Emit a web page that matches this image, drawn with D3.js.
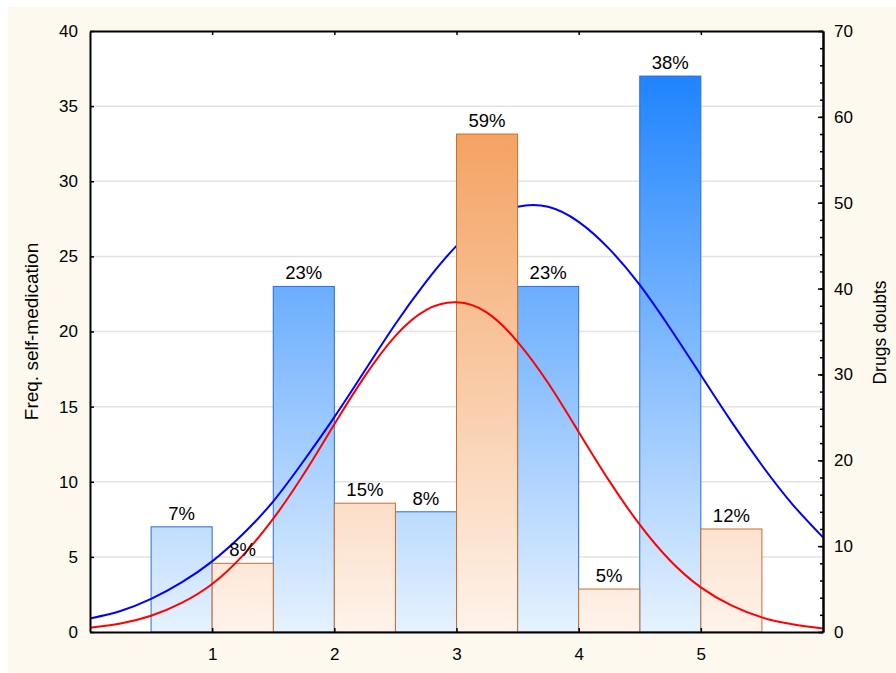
<!DOCTYPE html>
<html>
<head>
<meta charset="utf-8">
<script src="https://cdn.jsdelivr.net/npm/d3@7"></script>
<style>
  body { margin: 0; background: #fff; }
  text { font-family: "Liberation Sans", Arial, sans-serif; }
</style>
</head>
<body>
<div id="chart"></div>
<script>
// categories on the x axis
const categories = [1, 2, 3, 4, 5];
// left axis: frequency of self-medication
const selfMedication = [7, 23, 8, 23, 37];
const selfMedicationLabels = ["7%", "23%", "8%", "23%", "38%"];
// right axis: drugs doubts
const drugsDoubts = [8, 15, 58, 5, 12];
const drugsDoubtsLabels = ["8%", "15%", "59%", "5%", "12%"];

// fitted curves at steps of 0.25
const curveX = [0, 0.25, 0.5, 0.75, 1, 1.25, 1.5, 1.75, 2, 2.25, 2.5, 2.75, 3,
  3.25, 3.5, 3.75, 4, 4.25, 4.5, 4.75, 5, 5.25, 5.5, 5.75, 6];
const blueCurve = [0.9, 1.4, 2.2, 3.3, 4.7, 6.5, 8.7, 11.4, 14.3, 17.4, 20.5, 23.3, 25.7,
  27.4, 28.3, 28.3, 27.3, 25.5, 23.1, 20.2, 17.1, 14.0, 11.1, 8.5, 6.3];
const redCurve = [0.5, 1.0, 1.9, 3.4, 5.6, 8.9, 13.2, 18.4, 24.2, 29.8, 34.5, 37.5, 38.4,
  37.2, 33.8, 29.0, 23.3, 17.6, 12.5, 8.3, 5.2, 3.1, 1.7, 0.9, 0.4];

const leftTicks = [0, 5, 10, 15, 20, 25, 30, 35, 40];
const rightTicks = [0, 10, 20, 30, 40, 50, 60, 70];

const W = 896, H = 673;
const margin = { top: 31, right: 73, bottom: 41, left: 90 };
const width = W - margin.left - margin.right;
const height = H - margin.top - margin.bottom;

const svg = d3.select("#chart").append("svg")
  .attr("width", W)
  .attr("height", H);

svg.append("rect")
  .attr("x", 8).attr("y", 7)
  .attr("width", W - 8).attr("height", H - 7)
  .attr("fill", "#fdf9ee");

const defs = svg.append("defs");
const blueGrad = defs.append("linearGradient")
  .attr("id", "blueGrad")
  .attr("gradientUnits", "userSpaceOnUse")
  .attr("x1", 0).attr("x2", 0).attr("y1", 0).attr("y2", height);
blueGrad.append("stop").attr("offset", 0).attr("stop-color", "#0f7bff");
blueGrad.append("stop").attr("offset", 1).attr("stop-color", "#e6f2ff");

const orangeGrad = defs.append("linearGradient")
  .attr("id", "orangeGrad")
  .attr("gradientUnits", "userSpaceOnUse")
  .attr("x1", 0).attr("x2", 0).attr("y1", 0).attr("y2", height);
orangeGrad.append("stop").attr("offset", 0).attr("stop-color", "#f29246");
orangeGrad.append("stop").attr("offset", 1).attr("stop-color", "#fef3eb");

defs.append("clipPath").attr("id", "plotClip")
  .append("rect").attr("width", width).attr("height", height);

const g = svg.append("g")
  .attr("transform", `translate(${margin.left},${margin.top})`);

g.append("rect")
  .attr("width", width).attr("height", height)
  .attr("fill", "#fff");

const x = d3.scaleLinear().domain([0, 6]).range([0, width]);
const yL = d3.scaleLinear().domain([0, 40]).range([height, 0]);
const yR = d3.scaleLinear().domain([0, 70]).range([height, 0]);

// grid
g.append("g")
  .selectAll("line")
  .data(leftTicks.filter(d => d > 0 && d < 40))
  .join("line")
  .attr("x1", 0).attr("x2", width)
  .attr("y1", d => yL(d)).attr("y2", d => yL(d))
  .attr("stroke", "#e2e2e2")
  .attr("stroke-width", 1.5);

const plot = g.append("g").attr("clip-path", "url(#plotClip)");
const half = 0.5;

// blue bars (left axis)
plot.append("g")
  .selectAll("rect")
  .data(categories)
  .join("rect")
  .attr("x", d => x(d - half))
  .attr("y", (d, i) => yL(selfMedication[i]))
  .attr("width", x(half) - x(0))
  .attr("height", (d, i) => height - yL(selfMedication[i]))
  .attr("fill", "url(#blueGrad)")
  .attr("stroke", "#2a6be0")
  .attr("stroke-width", 1);

const line = d3.line().curve(d3.curveNatural);

plot.append("path")
  .attr("d", line(curveX.map((v, i) => [x(v), yL(blueCurve[i])])))
  .attr("fill", "none")
  .attr("stroke", "#0000ff")
  .attr("stroke-width", 2);

// orange bars (right axis)
plot.append("g")
  .selectAll("rect")
  .data(categories)
  .join("rect")
  .attr("x", d => x(d))
  .attr("y", (d, i) => yR(drugsDoubts[i]))
  .attr("width", x(half) - x(0))
  .attr("height", (d, i) => height - yR(drugsDoubts[i]))
  .attr("fill", "url(#orangeGrad)")
  .attr("stroke", "#c8702c")
  .attr("stroke-width", 1);

plot.append("path")
  .attr("d", line(curveX.map((v, i) => [x(v), yR(redCurve[i])])))
  .attr("fill", "none")
  .attr("stroke", "#ff0000")
  .attr("stroke-width", 2);

// bar labels
g.append("g")
  .selectAll("text")
  .data(categories)
  .join("text")
  .attr("x", d => x(d - half / 2))
  .attr("y", (d, i) => yL(selfMedication[i]) - 7)
  .attr("text-anchor", "middle")
  .attr("font-size", 18.5)
  .text((d, i) => selfMedicationLabels[i]);

g.append("g")
  .selectAll("text")
  .data(categories)
  .join("text")
  .attr("x", d => x(d + half / 2))
  .attr("y", (d, i) => yR(drugsDoubts[i]) - 7)
  .attr("text-anchor", "middle")
  .attr("font-size", 18.5)
  .text((d, i) => drugsDoubtsLabels[i]);

// axes
function styleAxis(sel) {
  sel.attr("font-size", 17).attr("font-family", "Liberation Sans, Arial, sans-serif");
  sel.select(".domain").attr("stroke", "#000").attr("stroke-width", 2);
  sel.selectAll(".tick line").attr("stroke", "#000").attr("stroke-width", 1.5);
  sel.selectAll(".tick text").attr("fill", "#000");
}

g.append("g")
  .call(d3.axisLeft(yL).tickValues(leftTicks).tickSize(-4).tickSizeOuter(0).tickPadding(12))
  .call(styleAxis);

g.append("g")
  .attr("transform", `translate(${width},0)`)
  .call(d3.axisRight(yR).tickValues(d3.range(0, 71, 2)).tickSize(-3).tickSizeOuter(0).tickFormat(""))
  .call(styleAxis);

g.append("g")
  .attr("transform", `translate(${width},0)`)
  .call(d3.axisRight(yR).tickValues(rightTicks).tickSize(-5).tickSizeOuter(0).tickPadding(11))
  .call(styleAxis);

g.append("g")
  .attr("transform", `translate(0,${height})`)
  .call(d3.axisBottom(x).tickValues(categories).tickFormat(d3.format("d"))
    .tickSize(-4).tickSizeOuter(0).tickPadding(16))
  .call(styleAxis);

g.append("g")
  .call(d3.axisTop(x).tickValues(categories).tickSize(-4).tickSizeOuter(0).tickFormat(""))
  .call(styleAxis);

// axis titles
svg.append("text")
  .attr("transform", `translate(38,${margin.top + height / 2}) rotate(-90)`)
  .attr("text-anchor", "middle")
  .attr("font-size", 19)
  .text("Freq. self-medication");

svg.append("text")
  .attr("transform", `translate(886,${margin.top + height / 2 + 1}) rotate(-90)`)
  .attr("text-anchor", "middle")
  .attr("font-size", 17.5)
  .text("Drugs doubts");
</script>
</body>
</html>
